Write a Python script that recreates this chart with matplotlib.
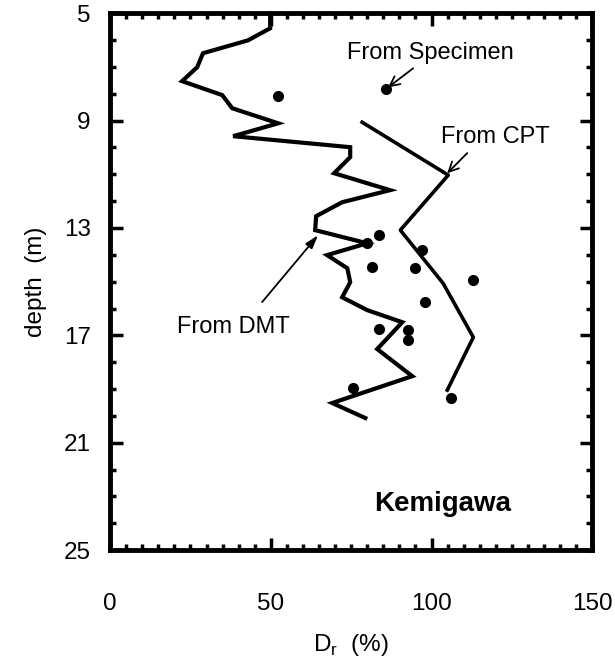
import matplotlib
matplotlib.use("Agg")
import matplotlib.pyplot as plt
from matplotlib.ticker import MultipleLocator

plt.rcParams["font.family"] = ["Liberation Sans", "DejaVu Sans"]

# Perfil DMT (Dr %, profundidad m)
dmt_dr = [49.8, 49.8, 42.9, 28.9, 27.1, 22.4, 34.9, 38.0, 52.3, 38.3, 74.7, 74.7,
          69.7, 87.1, 72.2, 64.1, 63.8, 80.0, 67.5, 73.8, 74.7, 72.2, 80.0, 90.9,
          83.1, 94.0, 69.1, 79.4]
dmt_depth = [5.0, 5.56, 6.01, 6.49, 7.01, 7.53, 8.05, 8.54, 9.10, 9.58, 9.99, 10.36,
             10.96, 11.59, 12.04, 12.56, 13.08, 13.57, 14.01, 14.50, 15.02, 15.58, 16.06, 16.51,
             17.51, 18.52, 19.52, 20.08]

# Perfil CPT
cpt_dr = [78.4, 105.2, 90.3, 103.6, 113.0, 104.9]
cpt_depth = [9.06, 11.03, 13.08, 15.06, 17.07, 19.04]

# Muestras
spec_dr = [52.3, 85.9, 83.7, 80.0, 97.1, 81.5, 94.9, 113.0, 98.0, 83.7, 92.7, 92.7,
           106.1, 75.6]
spec_depth = [8.09, 7.83, 13.27, 13.57, 13.83, 14.46, 14.50, 14.94, 15.76, 16.77, 16.81, 17.18,
              19.34, 18.97]

fig = plt.figure(figsize=(6.15, 6.62), dpi=100)
ax = fig.add_axes([0.179, 0.169, 0.784, 0.811])

ax.plot(dmt_dr, dmt_depth, color="black", lw=3, solid_joinstyle="miter")
ax.plot(cpt_dr, cpt_depth, color="black", lw=2.6)
ax.plot(spec_dr, spec_depth, "o", color="black", ms=7)

ax.set_xlim(0, 150)
ax.set_ylim(25, 5)
ax.xaxis.set_major_locator(MultipleLocator(50))
ax.xaxis.set_minor_locator(MultipleLocator(5))
ax.yaxis.set_minor_locator(MultipleLocator(1))
ax.set_yticks([5, 9, 13, 17, 21, 25])

ax.tick_params(which="both", direction="in", top=True, right=True, width=2.5)
ax.tick_params(which="major", length=9)
ax.tick_params(which="minor", length=4.5)
ax.tick_params(axis="x", which="major", pad=31, labelsize=17.5)
ax.tick_params(axis="y", which="major", pad=14, labelsize=17.5)
for s in ax.spines.values():
    s.set_linewidth(3.5)

ax.set_xlabel("D$_\\mathregular{r}$  (%)", fontsize=17.5, labelpad=12)
ax.set_ylabel("depth  (m)", fontsize=17.5, labelpad=12)

# Flechas y rótulos
arr = dict(arrowstyle="->,head_length=0.7,head_width=0.35", color="black", lw=1.3,
           shrinkA=0, shrinkB=0)
ax.annotate("", xy=(86.5, 7.76), xytext=(94.3, 7.05), arrowprops=arr)
ax.text(99.6, 6.49, "From Specimen", fontsize=17, ha="center", va="center")
ax.annotate("", xy=(104.9, 10.96), xytext=(111.1, 10.21), arrowprops=arr)
ax.text(119.8, 9.62, "From CPT", fontsize=17, ha="center", va="center")
ax.annotate("", xy=(64.7, 13.27), xytext=(47.3, 15.76),
            arrowprops=dict(arrowstyle="-|>,head_length=0.8,head_width=0.25", color="black",
                            lw=1.3, shrinkA=0, shrinkB=0))
ax.text(38.3, 16.69, "From DMT", fontsize=17, ha="center", va="center")
ax.text(103.6, 23.3, "Kemigawa", fontsize=20, fontweight="bold", ha="center", va="center")

fig.savefig("out.png", dpi=100)
